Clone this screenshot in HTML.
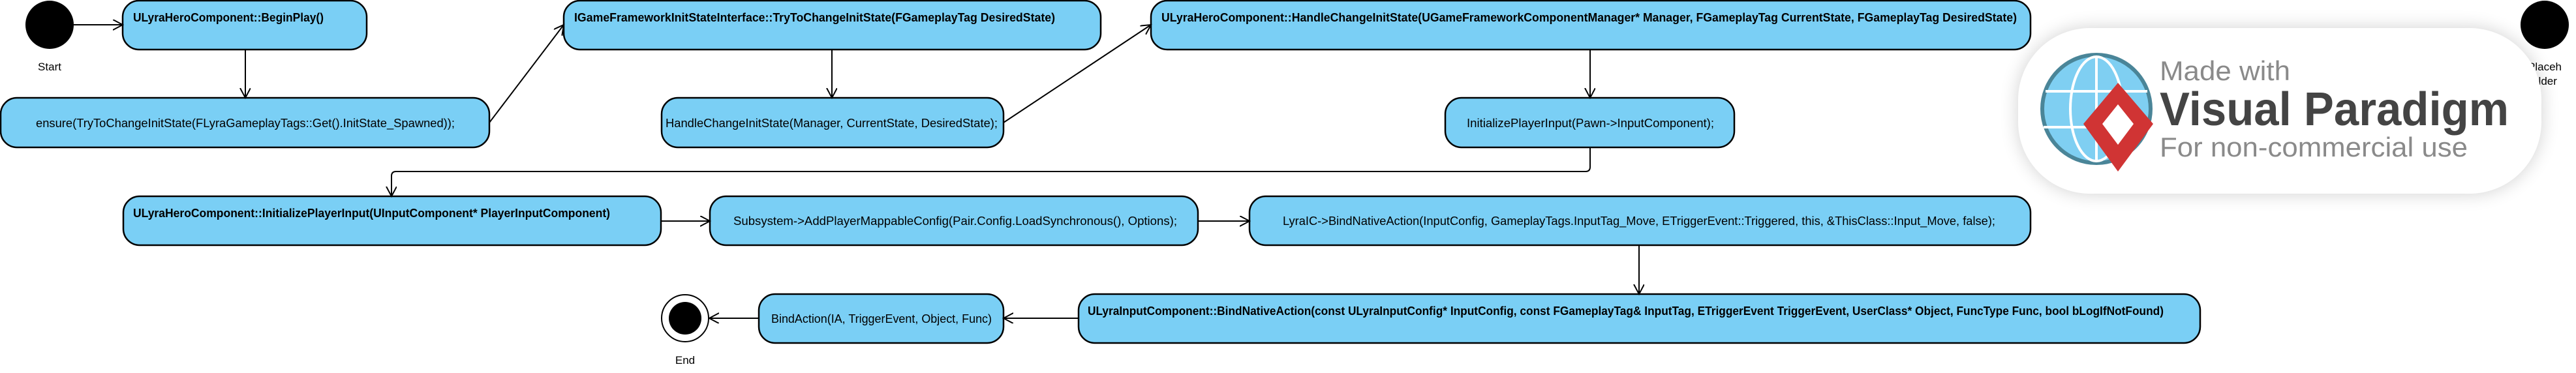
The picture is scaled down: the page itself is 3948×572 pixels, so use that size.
<!DOCTYPE html>
<html><head><meta charset="utf-8"><style>
html,body{margin:0;padding:0;background:#fff;}
svg{display:block;}
text{font-family:"Liberation Sans",Arial,sans-serif;}
</style></head><body>
<svg width="3948" height="572" viewBox="0 0 3948 572" xmlns="http://www.w3.org/2000/svg">
<defs>
<marker id="a" markerWidth="20" markerHeight="20" refX="15" refY="8" orient="auto" markerUnits="userSpaceOnUse">
<path d="M0,0 L15,8 L0,16" fill="none" stroke="#000" stroke-width="2"/>
</marker>
<filter id="sh" x="-10%" y="-30%" width="120%" height="160%"><feGaussianBlur stdDeviation="14"/></filter>
</defs>
<g fill="#7acff5" stroke="#000" stroke-width="2.5">
<rect x="188" y="1" width="374" height="75" rx="25"/>
<rect x="1" y="150" width="749" height="76" rx="25"/>
<rect x="864" y="1" width="823" height="75" rx="25"/>
<rect x="1014" y="150" width="524" height="76" rx="25"/>
<rect x="1764" y="1" width="1348" height="75" rx="25"/>
<rect x="2215" y="150" width="443" height="76" rx="25"/>
<rect x="189" y="301" width="824" height="75" rx="25"/>
<rect x="1088" y="301" width="748" height="75" rx="25"/>
<rect x="1915" y="301" width="1197" height="75" rx="25"/>
<rect x="1653" y="451" width="1719" height="75" rx="25"/>
<rect x="1163" y="451" width="375" height="75" rx="25"/>
</g>
<circle cx="76" cy="38" r="37" fill="#000"/>
<circle cx="1050" cy="488" r="36" fill="#fff" stroke="#000" stroke-width="2"/>
<circle cx="1050" cy="488" r="25" fill="#000"/>
<circle cx="3900" cy="38" r="37" fill="#000"/>
<g stroke="#000" stroke-width="2" fill="none" marker-end="url(#a)">
<line x1="113" y1="38" x2="188" y2="38"/>
<line x1="376" y1="76" x2="376" y2="150"/>
<line x1="750" y1="188" x2="864" y2="38"/>
<line x1="1275" y1="76" x2="1275" y2="150"/>
<line x1="1538" y1="188" x2="1764" y2="38"/>
<line x1="2437" y1="76" x2="2437" y2="150"/>
<path d="M2437,226 L2437,256 Q2437,263 2430,263 L607,263 Q600,263 600,270 L600,301"/>
<line x1="1013" y1="339" x2="1088" y2="339"/>
<line x1="1836" y1="339" x2="1915" y2="339"/>
<line x1="2512" y1="376" x2="2512" y2="451"/>
<line x1="1653" y1="488" x2="1538" y2="488"/>
<line x1="1163" y1="488" x2="1087" y2="488"/>
</g>
<g font-size="18" fill="#000" lengthAdjust="spacingAndGlyphs">
<text x="204" y="33" font-weight="bold" textLength="292" lengthAdjust="spacingAndGlyphs">ULyraHeroComponent::BeginPlay()</text>
<text x="55" y="195" textLength="642" lengthAdjust="spacingAndGlyphs">ensure(TryToChangeInitState(FLyraGameplayTags::Get().InitState_Spawned));</text>
<text x="880" y="33" font-weight="bold" textLength="737" lengthAdjust="spacingAndGlyphs">IGameFrameworkInitStateInterface::TryToChangeInitState(FGameplayTag DesiredState)</text>
<text x="1020" y="195" textLength="509" lengthAdjust="spacingAndGlyphs">HandleChangeInitState(Manager, CurrentState, DesiredState);</text>
<text x="1780" y="33" font-weight="bold" textLength="1311" lengthAdjust="spacingAndGlyphs">ULyraHeroComponent::HandleChangeInitState(UGameFrameworkComponentManager* Manager, FGameplayTag CurrentState, FGameplayTag DesiredState)</text>
<text x="2248" y="195" textLength="379" lengthAdjust="spacingAndGlyphs">InitializePlayerInput(Pawn-&gt;InputComponent);</text>
<text x="204" y="333" font-weight="bold" textLength="731" lengthAdjust="spacingAndGlyphs">ULyraHeroComponent::InitializePlayerInput(UInputComponent* PlayerInputComponent)</text>
<text x="1124" y="345" textLength="680" lengthAdjust="spacingAndGlyphs">Subsystem-&gt;AddPlayerMappableConfig(Pair.Config.LoadSynchronous(), Options);</text>
<text x="1966" y="345" textLength="1092" lengthAdjust="spacingAndGlyphs">LyraIC-&gt;BindNativeAction(InputConfig, GameplayTags.InputTag_Move, ETriggerEvent::Triggered, this, &amp;ThisClass::Input_Move, false);</text>
<text x="1667" y="483" font-weight="bold" textLength="1649" lengthAdjust="spacingAndGlyphs">ULyraInputComponent::BindNativeAction(const ULyraInputConfig* InputConfig, const FGameplayTag&amp; InputTag, ETriggerEvent TriggerEvent, UserClass* Object, FuncType Func, bool bLogIfNotFound)</text>
<text x="1182" y="495" textLength="338" lengthAdjust="spacingAndGlyphs">BindAction(IA, TriggerEvent, Object, Func)</text>
<text x="76" y="108" text-anchor="middle" font-size="17">Start</text>
<text x="1050" y="558" text-anchor="middle" font-size="17">End</text>
<text x="3900" y="108" text-anchor="middle" font-size="17">Placeh</text>
<text x="3900" y="130" text-anchor="middle" font-size="17">older</text>
</g>
<!-- watermark -->
<rect x="3093" y="43" width="802" height="254" rx="110" fill="#000" opacity="0.18" filter="url(#sh)"/>
<rect x="3093" y="43" width="802" height="254" rx="110" fill="#fff"/>
<circle cx="3213" cy="167" r="83" fill="#7fcff2" stroke="#4a8598" stroke-width="6"/>
<g stroke="#fff" stroke-width="4" fill="none">
<ellipse cx="3213" cy="167" rx="40" ry="80"/>
<line x1="3213" y1="86" x2="3213" y2="248"/>
<line x1="3135" y1="140" x2="3291" y2="140"/>
<line x1="3132" y1="195" x2="3294" y2="195"/>
</g>
<path d="M3246,127 L3300,190 L3246,263 L3193,190 Z" fill="#d03434"/>
<path d="M3246,160 L3270,190 L3246,222 L3222,190 Z" fill="#fff"/>
<text x="3310" y="123" font-size="42" fill="#8a8a8a" textLength="200" lengthAdjust="spacingAndGlyphs">Made with</text>
<text x="3310" y="192" font-size="72" font-weight="bold" fill="#444" textLength="535" lengthAdjust="spacingAndGlyphs">Visual Paradigm</text>
<text x="3310" y="240" font-size="42" fill="#8a8a8a" textLength="472" lengthAdjust="spacingAndGlyphs">For non-commercial use</text>
</svg>
</body></html>
